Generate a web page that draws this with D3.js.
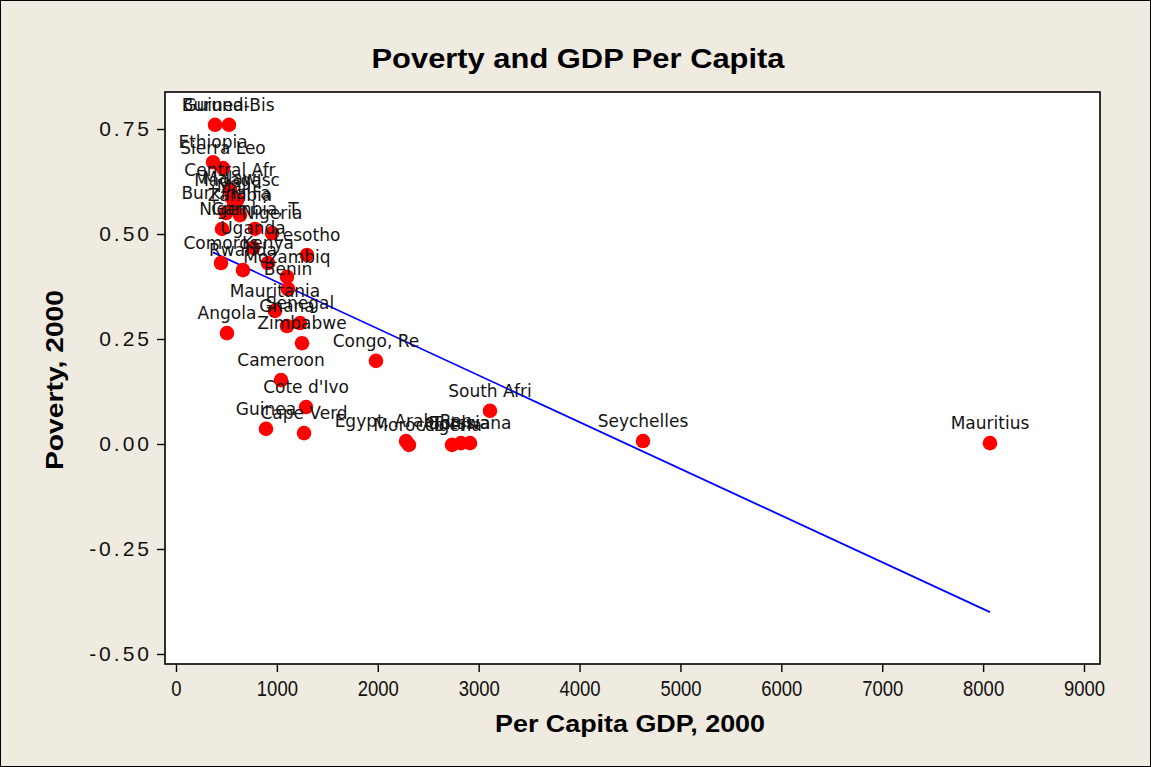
<!DOCTYPE html>
<html>
<head>
<meta charset="utf-8">
<script src="https://cdn.jsdelivr.net/npm/d3@7"></script>
<style>
  body { margin: 0; background: #efebe0; }
  svg { display: block; }
  .lbl { font-family: "DejaVu Sans", sans-serif; font-size: 17px; fill: #141414; }
</style>
</head>
<body>
<svg width="1151" height="767"></svg>
<script>
// country labels (as printed on the chart), GDP per capita and poverty share, 2000
const countries = ["Burundi", "Guinea-Bis", "Ethiopia", "Sierra Leo", "Central Afr", "Malawi",
  "Madagasc", "Mali", "Burkina Fa", "Zambia", "Niger", "Gambia, T", "Nigeria", "Uganda",
  "Lesotho", "Comoros", "Kenya", "Rwanda", "Mozambiq", "Benin", "Mauritania", "Senegal",
  "Ghana", "Zimbabwe", "Angola", "Congo, Re", "Cameroon", "Cote d'Ivo", "Guinea", "Cape Verd",
  "Egypt, Arab Rep.", "Morocco", "Algeria", "Tunisia", "Botswana", "South Afri", "Seychelles", "Mauritius"];
const gdp = [387, 525, 367, 466, 535, 555,
  605, 575, 496, 634, 456, 783, 952, 763,
  1298, 446, 912, 664, 1100, 1110, 981, 1229,
  1100, 1249, 505, 1982, 1041, 1289, 892, 1269,
  2280, 2309, 2736, 2825, 2914, 3112, 4629, 8068];
const poverty = [0.760, 0.760, 0.671, 0.657, 0.605, 0.586,
  0.581, 0.567, 0.550, 0.545, 0.512, 0.512, 0.502, 0.467,
  0.450, 0.431, 0.431, 0.414, 0.398, 0.369, 0.317, 0.288,
  0.281, 0.240, 0.264, 0.198, 0.152, 0.088, 0.036, 0.026,
  0.007, -0.002, -0.002, 0.002, 0.002, 0.079, 0.007, 0.002];

const xTicks = [0, 1000, 2000, 3000, 4000, 5000, 6000, 7000, 8000, 9000];
const yTicks = [-0.5, -0.25, 0, 0.25, 0.5, 0.75];

// fitted regression line
const fitIntercept = 0.497;
const fitSlope = -0.0001112;

const svg = d3.select("svg");
const W = 1151, H = 767;
const frame = {left: 165, right: 1100, top: 92, bottom: 664};

const x = d3.scaleLinear().domain([0, 9000]).range([176, 1084]);
const y = d3.scaleLinear().domain([-0.5, 0.75]).range([654, 129]);

const data = countries.map((c, i) => ({name: c, gdp: gdp[i], pov: poverty[i]}));

// background + outer border
svg.append("rect")
    .attr("x", 0.5).attr("y", 0.5)
    .attr("width", W - 1).attr("height", H - 1)
    .attr("fill", "#efebe0")
    .attr("stroke", "#000");

// plot area
svg.append("rect")
    .attr("x", frame.left).attr("y", frame.top)
    .attr("width", frame.right - frame.left)
    .attr("height", frame.bottom - frame.top)
    .attr("fill", "#fff")
    .attr("stroke", "#000")
    .attr("stroke-width", 1.6);

// axes
const yAxis = svg.append("g")
    .attr("transform", `translate(${frame.left},0)`)
    .call(d3.axisLeft(y).tickValues(yTicks).tickSize(8).tickPadding(5)
        .tickFormat(d => d.toFixed(2)));
yAxis.select(".domain").remove();
yAxis.selectAll("line").attr("stroke", "#000").attr("stroke-width", 1.4);
yAxis.selectAll("text")
    .attr("font-family", "Liberation Sans, Arial, sans-serif")
    .attr("font-size", 21)
    .attr("letter-spacing", 3)
    .attr("fill", "#111");

const xAxis = svg.append("g")
    .attr("transform", `translate(0,${frame.bottom})`)
    .call(d3.axisBottom(x).tickValues(xTicks).tickSize(8).tickPadding(8)
        .tickFormat(d => d));
xAxis.select(".domain").remove();
xAxis.selectAll("line").attr("stroke", "#000").attr("stroke-width", 1.4);
xAxis.selectAll("text")
    .attr("font-family", "Liberation Sans, Arial, sans-serif")
    .attr("font-size", 22)
    .attr("transform", "scale(0.84,1)")
    .attr("fill", "#111");

// regression line from smallest to largest GDP
const [xMin, xMax] = d3.extent(gdp);
svg.append("line")
    .attr("x1", x(xMin)).attr("y1", y(fitIntercept + fitSlope * xMin))
    .attr("x2", x(xMax)).attr("y2", y(fitIntercept + fitSlope * xMax))
    .attr("stroke", "#0000ff")
    .attr("stroke-width", 1.8);

// points
svg.append("g")
    .selectAll("circle")
    .data(data)
    .join("circle")
    .attr("cx", d => x(d.gdp))
    .attr("cy", d => y(d.pov))
    .attr("r", 7.3)
    .attr("fill", "#ff0000");

// labels
svg.append("g")
    .selectAll("text")
    .data(data)
    .join("text")
    .attr("class", "lbl")
    .attr("x", d => x(d.gdp))
    .attr("y", d => y(d.pov) - 14)
    .attr("text-anchor", "middle")
    .text(d => d.name);

// titles
svg.append("text")
    .attr("x", 578).attr("y", 68)
    .attr("text-anchor", "middle")
    .attr("font-family", "Liberation Sans, Arial, sans-serif")
    .attr("font-weight", "bold")
    .attr("font-size", 27)
    .attr("textLength", 413)
    .attr("lengthAdjust", "spacingAndGlyphs")
    .text("Poverty and GDP Per Capita");

svg.append("text")
    .attr("x", 630).attr("y", 732)
    .attr("text-anchor", "middle")
    .attr("font-family", "Liberation Sans, Arial, sans-serif")
    .attr("font-weight", "bold")
    .attr("font-size", 23)
    .attr("textLength", 270)
    .attr("lengthAdjust", "spacingAndGlyphs")
    .text("Per Capita GDP, 2000");

svg.append("text")
    .attr("transform", "translate(63,380) rotate(-90)")
    .attr("text-anchor", "middle")
    .attr("font-family", "Liberation Sans, Arial, sans-serif")
    .attr("font-weight", "bold")
    .attr("font-size", 23)
    .attr("textLength", 180)
    .attr("lengthAdjust", "spacingAndGlyphs")
    .text("Poverty, 2000");
</script>
</body>
</html>
